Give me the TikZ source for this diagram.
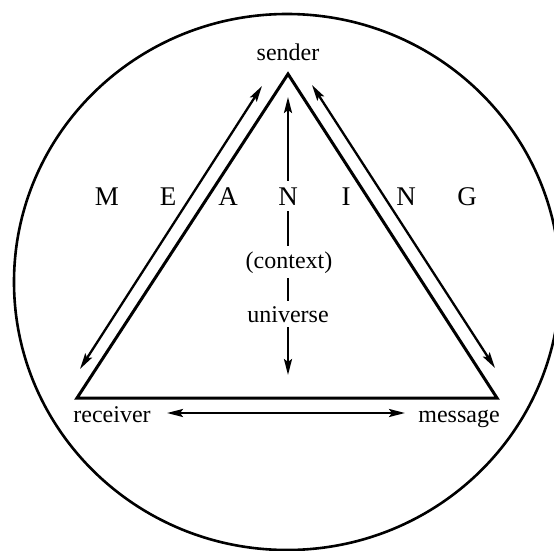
\documentclass[tikz,border=0pt]{standalone}
\usepackage{fontspec}
\setmainfont{Liberation Serif}
\usetikzlibrary{arrows.meta}
\begin{document}
\begin{tikzpicture}[x=1pt,y=-1pt,
  lbl/.style={font=\fontsize{24}{28}\selectfont, inner sep=0pt, anchor=base},
  capl/.style={font=\fontsize{27}{31}\selectfont, inner sep=0pt, anchor=base},
  gapbox/.style={fill=white, inner sep=5pt},
  tri/.style={line width=3pt, line join=miter},
  tip/.tip={Stealth[length=16pt,width=8pt,inset=3pt]},
  arr/.style={line width=2.3pt, tip-tip}]
\useasboundingbox (0,0) rectangle (554,551);
% outer circle
\draw[line width=2.6pt] (287,282) ellipse [x radius=273, y radius=268];
% triangle corners
\coordinate (A) at (288,74);
\coordinate (L) at (77,398);
\coordinate (R) at (497,398);
\draw[tri] (A) -- (L) -- (R) -- cycle;
% arrow end points
\coordinate (la1) at (262,86);
\coordinate (la2) at (80,369);
\coordinate (ra1) at (312,85);
\coordinate (ra2) at (495,368);
\coordinate (ba1) at (167,413);
\coordinate (ba2) at (405,413);
\coordinate (va1) at (288,97);
\coordinate (va2) at (288,375);
\draw[arr] (la1) -- (la2);
\draw[arr] (ra1) -- (ra2);
\draw[arr] (ba1) -- (ba2);
\draw[arr] (va1) -- (va2);
% labels
\node[lbl] (sender) at (288,61) {sender};
\node[lbl] (receiver) at (112,422) {receiver};
\node[lbl] (message) at (459,422) {message};
\node[lbl,gapbox] (context) at (289,268) {(context)};
\node[lbl,gapbox] (universe) at (288,322) {universe};
% MEANING
\node[capl] (m1) at (107,205) {M};
\node[capl] (m2) at (168,205) {E};
\node[capl] (m3) at (228,205) {A};
\node[capl,gapbox,inner sep=6pt] (m4) at (288,205) {N};
\node[capl] (m5) at (346,205) {I};
\node[capl] (m6) at (406,205) {N};
\node[capl] (m7) at (467,205) {G};
\end{tikzpicture}
\end{document}
